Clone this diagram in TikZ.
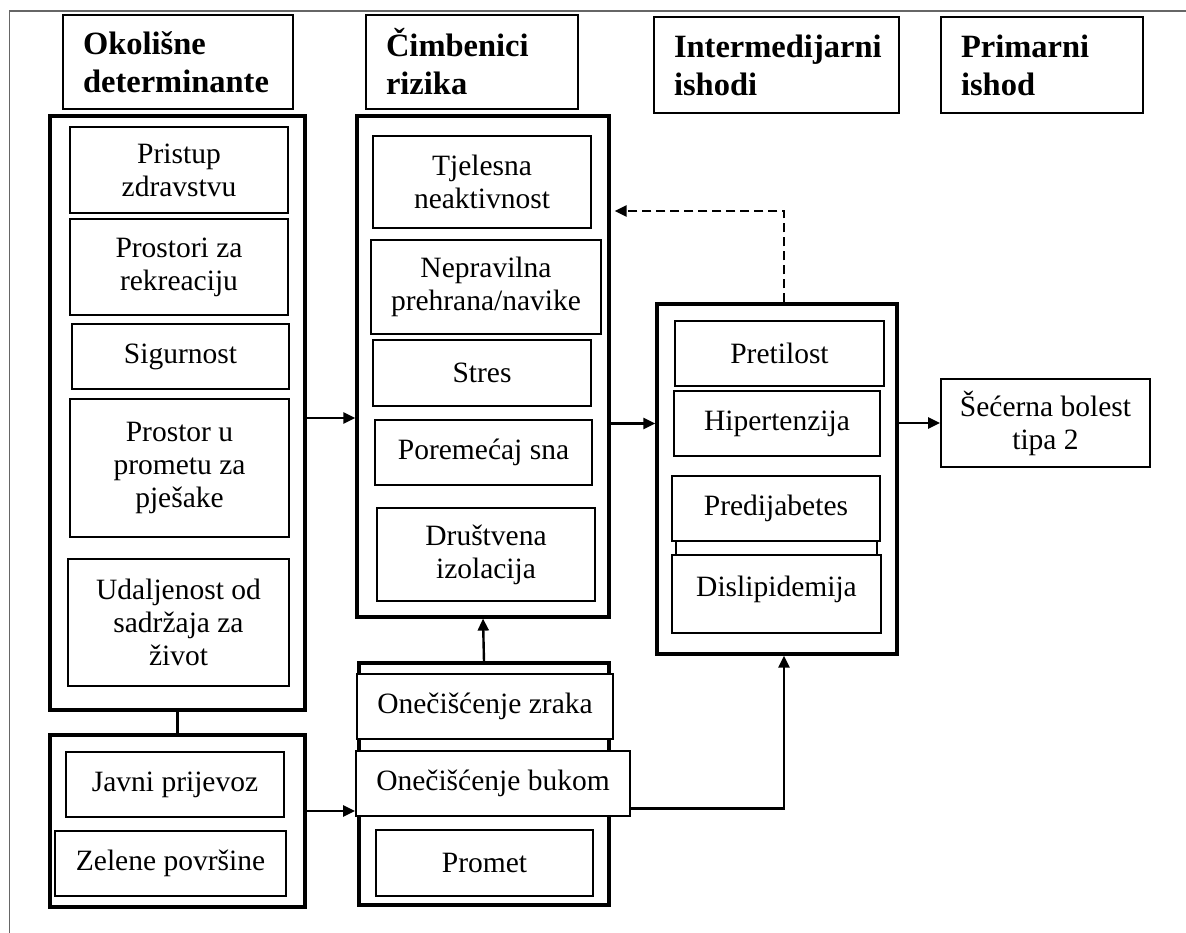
\documentclass[tikz,border=0pt]{standalone}
\usepackage{fontspec}
\setmainfont{Liberation Serif}
\usetikzlibrary{arrows.meta}

\begin{document}
\begin{tikzpicture}[x=1pt,y=-1pt,
	hdr/.style={draw=black,line width=1.8pt,align=left,inner sep=0pt,
		font=\bfseries\fontsize{32.5}{38}\selectfont},
	grp/.style={draw=black,line width=3.2pt,inner sep=0pt},
	itm/.style={draw=black,line width=1.7pt,fill=white,align=center,inner sep=0pt,
		font=\fontsize{29.5}{33}\selectfont},
	arr/.style={line width=2.4pt,-{Triangle[length=12pt,width=11pt]}},
	darr/.style={arr,dash pattern=on 9pt off 5pt}]
	
	\useasboundingbox (0,0) rectangle (1186,933);
	\draw[gray!80!black,line width=1.6pt] (1186,11) -- (9.5,11) -- (9.5,933);
	
	% column headers
	\node[hdr,minimum width=230pt,minimum height=94pt,text width=190pt] (okol)  at (178,62)    {Okolišne\\determinante};
	\node[hdr,minimum width=212pt,minimum height=94pt,text width=172pt] (cimb)  at (472,62)    {Čimbenici\\rizika};
	\node[hdr,minimum width=245pt,minimum height=96pt,text width=205pt] (inter) at (776.5,65)  {Intermedijarni\\ishodi};
	\node[hdr,minimum width=202pt,minimum height=96pt,text width=162pt] (prim)  at (1042,65)   {Primarni\\ishod};
	
	% group frames
	\node[grp,minimum width=255pt,minimum height=594pt] (envgrp)  at (177.5,413)  {};
	\node[grp,minimum width=255pt,minimum height=172pt] (trgrp)   at (177.5,821)  {};
	\node[grp,minimum width=252pt,minimum height=501pt] (riskgrp) at (483,366.5)  {};
	\node[grp,minimum width=250pt,minimum height=242pt] (polgrp)  at (484,784)    {};
	\node[grp,minimum width=240pt,minimum height=350pt] (intgrp)  at (777,479)    {};
	\draw[line width=1.7pt] (676,536) rectangle (877,560);
	
	% okolisne determinante
	\node[itm,minimum width=218pt,minimum height=86pt]  (pristup) at (179,170)     {Pristup\\zdravstvu};
	\node[itm,minimum width=218pt,minimum height=96pt]  (rekre)   at (179,267)     {Prostori za\\rekreaciju};
	\node[itm,minimum width=217pt,minimum height=65pt]  (sigur)   at (180.5,356.5) {Sigurnost};
	\node[itm,minimum width=219pt,minimum height=138pt] (pjes)    at (179.5,468)   {Prostor u\\prometu za\\pješake};
	\node[itm,minimum width=221pt,minimum height=127pt] (udalj)   at (178.5,622.5) {Udaljenost od\\sadržaja za\\život};
	\node[itm,minimum width=218pt,minimum height=65pt]  (javni)   at (175,784.5)   {Javni prijevoz};
	\node[itm,minimum width=231pt,minimum height=65pt]  (zelene)  at (170.5,863.5) {Zelene površine};
	
	% cimbenici rizika
	\node[itm,minimum width=218pt,minimum height=92pt] (tjel)   at (482,182)     {Tjelesna\\neaktivnost};
	\node[itm,minimum width=230pt,minimum height=94pt] (neprav) at (486,287)     {Nepravilna\\prehrana/navike};
	\node[itm,minimum width=218pt,minimum height=66pt] (stres)  at (482,373)     {Stres};
	\node[itm,minimum width=217pt,minimum height=65pt] (pore)   at (483.5,452.5) {Poremećaj sna};
	\node[itm,minimum width=218pt,minimum height=93pt] (drus)   at (486,554.5)   {Društvena\\izolacija};
	
	% onecisccenje
	\node[itm,minimum width=256pt,minimum height=65pt] (zraka)  at (485,706.5)   {Onečišćenje zraka};
	\node[itm,minimum width=274pt,minimum height=65pt] (bukom)  at (493,783.5)   {Onečišćenje bukom};
	\node[itm,minimum width=217pt,minimum height=66pt] (promet) at (484.5,863)   {Promet};
	
	% intermedijarni ishodi
	\node[itm,minimum width=209pt,minimum height=65pt] (pretil) at (779.5,353.5) {Pretilost};
	\node[itm,minimum width=206pt,minimum height=65pt] (hiper)  at (777,423.5)   {Hipertenzija};
	\node[itm,minimum width=208pt,minimum height=65pt] (predij) at (776,508.5)   {Predijabetes};
	\node[itm,minimum width=209pt,minimum height=78pt,text depth=16pt] (dislip) at (776.5,594) {Dislipidemija};
	
	% primarni ishod
	\node[itm,minimum width=209pt,minimum height=88pt] (secer) at (1045.5,423) {Šećerna bolest\\tipa 2};
	
	% connectors
	\coordinate (dbend) at (784,211);
	\draw[line width=2.4pt] (envgrp.south) -- (trgrp.north);
	\draw[arr] ([yshift=-5pt]envgrp.east) -- ([yshift=-5pt]envgrp.east -| riskgrp.west);
	\draw[arr] ([yshift=10pt]trgrp.east) -- ([yshift=10pt]trgrp.east -| bukom.west);
	\draw[arr] (polgrp.north) -- (riskgrp.south);
	\draw[arr] (riskgrp.east |- hiper) -- (intgrp.west |- hiper);
	\draw[arr] (intgrp.east |- secer) -- (secer.west);
	\draw[arr] ([yshift=-25pt]bukom.east) -| (intgrp.south -| dbend);
	\draw[darr] (intgrp.north -| dbend) |- ([xshift=4pt]riskgrp.east |- dbend);
	
\end{tikzpicture}
\end{document}
